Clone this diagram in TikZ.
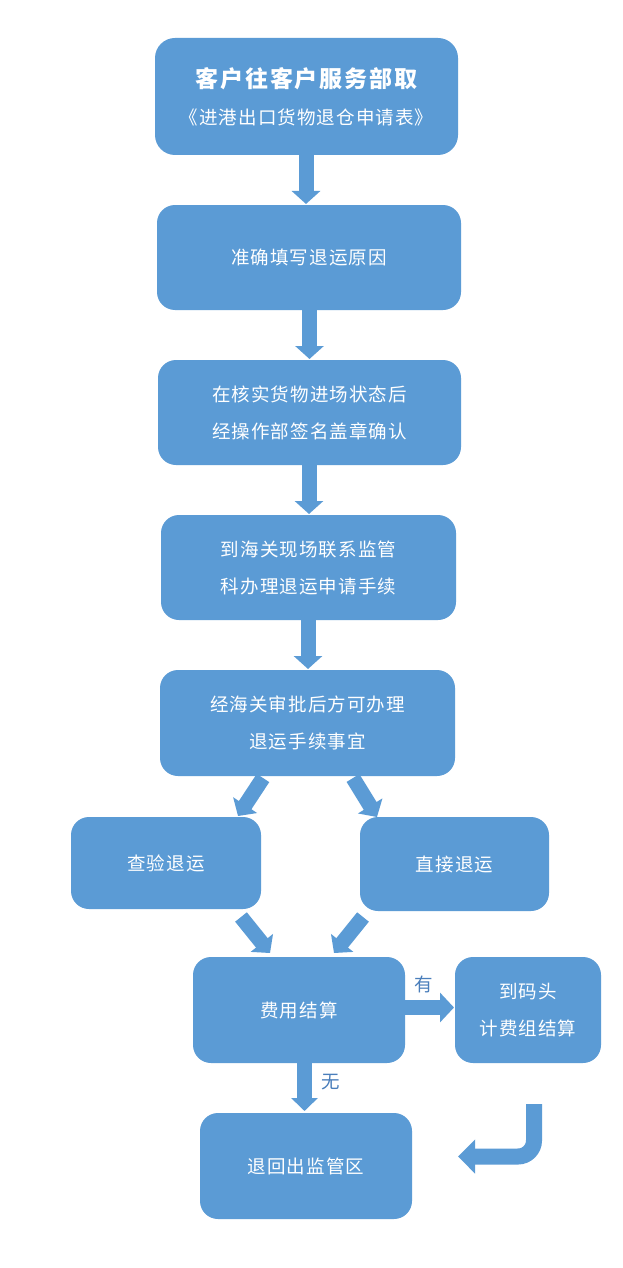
\documentclass[tikz,border=0pt]{standalone}
\usepackage{fontspec}
\usetikzlibrary{arrows.meta}
\newfontfamily\cjk{Noto Sans CJK SC}[LetterSpace=6]
\newfontfamily\cjktitle{Noto Sans CJK SC}[LetterSpace=8]
\definecolor{boxblue}{HTML}{5B9BD5}
\definecolor{labelblue}{HTML}{4A7EBB}
\tikzset{
  flowbox/.style={rectangle, rounded corners=18pt, fill=boxblue, draw=none,
    text=white, align=center, inner sep=0pt, font=\cjk\fontsize{18.5}{37}\selectfont},
  blockarrow/.style={draw=boxblue, line width=15pt,
    -{Triangle[width=28pt,length=13pt]}},
  edgelabel/.style={text=labelblue, font=\cjk\fontsize{18.5}{20}\selectfont}
}
\begin{document}
\begin{tikzpicture}[x=1pt,y=-1pt]
\useasboundingbox (0,0) rectangle (622,1268);
\fill[white] (0,0) rectangle (622,1268);
% boxes
\node[flowbox, rounded corners=20pt, minimum width=303pt, minimum height=117pt] (b1) at (306.5,96.5)
  {{\cjktitle\fontsize{23}{26}\selectfont\bfseries 客户往客户服务部取}\\[0pt]《进港出口货物退仓申请表》};
\node[flowbox, minimum width=304pt, minimum height=105pt] (b2) at (309,257.5) {准确填写退运原因};
\node[flowbox, minimum width=303pt, minimum height=105pt] (b3) at (309.5,412.5) {在核实货物进场状态后\\经操作部签名盖章确认};
\node[flowbox, minimum width=295pt, minimum height=105pt] (b4) at (308.5,567.5) {到海关现场联系监管\\科办理退运申请手续};
\node[flowbox, minimum width=295pt, minimum height=106pt] (b5) at (307.5,723) {经海关审批后方可办理\\退运手续事宜};
\node[flowbox, minimum width=190pt, minimum height=92pt] (left) at (166,863) {查验退运};
\node[flowbox, minimum width=189pt, minimum height=94pt] (right) at (454.5,864) {直接退运};
\node[flowbox, minimum width=212pt, minimum height=106pt] (fee) at (299,1010) {费用结算};
\node[flowbox, minimum width=146pt, minimum height=106pt] (dock) at (528,1010) {到码头\\计费组结算};
\node[flowbox, minimum width=212pt, minimum height=106pt] (ret) at (306,1166) {退回出监管区};
% connector end points
\coordinate (a1s) at (306,155);   \coordinate (a1e) at (306,204);
\coordinate (a2s) at (309.5,310); \coordinate (a2e) at (309.5,359);
\coordinate (a3s) at (309,465);   \coordinate (a3e) at (309,514);
\coordinate (a4s) at (308,620);   \coordinate (a4e) at (308,669);
\coordinate (dls) at (263,778);   \coordinate (dle) at (238,816);
\coordinate (drs) at (353,778);   \coordinate (dre) at (377,817);
\coordinate (uls) at (241,917);   \coordinate (ule) at (270,953);
\coordinate (urs) at (363,917);   \coordinate (ure) at (334,953);
\coordinate (hs) at (405,1007.5); \coordinate (he) at (454,1007.5);
\coordinate (ns) at (304.5,1063); \coordinate (ne) at (304.5,1111);
\coordinate (cs) at (534,1104);   \coordinate (cm) at (534,1156.5); \coordinate (ce) at (458,1156.5);
% arrows
\draw[blockarrow] (a1s) -- (a1e);
\draw[blockarrow] (a2s) -- (a2e);
\draw[blockarrow] (a3s) -- (a3e);
\draw[blockarrow] (a4s) -- (a4e);
\draw[blockarrow] (dls) -- (dle);
\draw[blockarrow] (drs) -- (dre);
\draw[blockarrow] (uls) -- (ule);
\draw[blockarrow] (urs) -- (ure);
\draw[blockarrow, -{Triangle[width=29pt,length=14pt]}] (hs) -- (he);
\draw[blockarrow, -{Triangle[width=26pt,length=13pt]}] (ns) -- (ne);
\draw[blockarrow, line width=16pt, rounded corners=16pt, -{Triangle[width=33pt,length=17pt]}] (cs) -- (cm) -- (ce);
% labels
\node[edgelabel] (lyes) at (424,984) {有};
\node[edgelabel] (lno) at (331,1082) {无};
\end{tikzpicture}
\end{document}
